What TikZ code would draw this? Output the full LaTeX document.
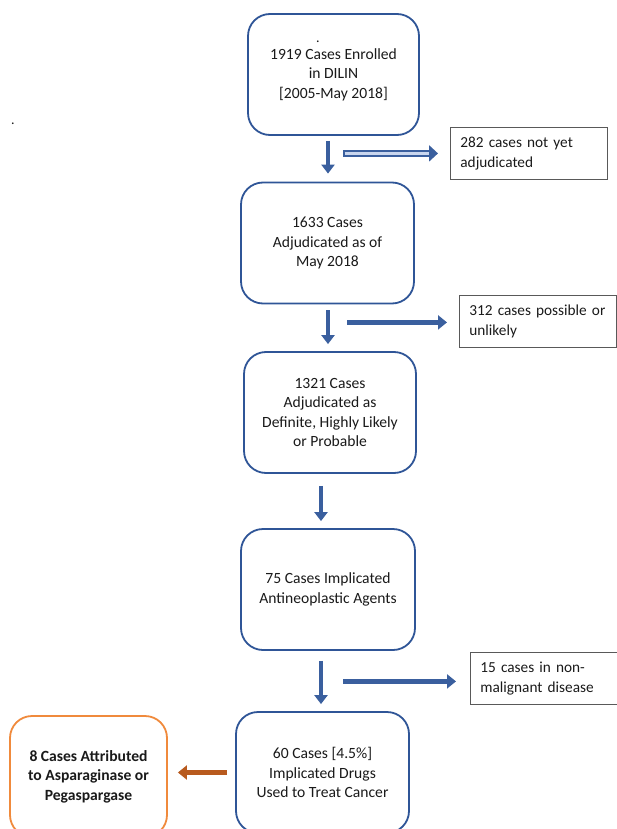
\documentclass[tikz,border=0pt]{standalone}
\usepackage{fontspec}
\setmainfont{Carlito}
\usetikzlibrary{arrows.meta,calc}
\definecolor{bblue}{HTML}{2F5597}
\definecolor{ablue}{HTML}{3A5F9E}
\definecolor{lblue}{HTML}{C9D6EE}
\definecolor{oborder}{HTML}{F08A3C}
\definecolor{oarrow}{HTML}{B85A1E}
\definecolor{gborder}{HTML}{595959}
\definecolor{txt}{HTML}{1A1A1A}
\tikzset{
  mainbox/.style={draw=bblue, line width=1.8pt, rounded corners=22pt, fill=white,
    minimum width=#1, minimum height=121pt, align=center, text=txt,
    font=\fontsize{15.6}{19.5}\selectfont},
  mainbox/.default=172pt,
  sidebox/.style={draw=gborder, line width=0.8pt, anchor=north west, align=left,
    text width=#1, inner xsep=10pt, inner ysep=4pt, minimum height=52pt, text=txt,
    font=\fontsize{15.3}{19.5}\selectfont},
  downar/.style={draw=ablue, line width=4.5pt, -{Triangle[length=9pt,width=13pt]}},
  rightar/.style={draw=ablue, line width=5.5pt, -{Triangle[length=9pt,width=14pt]}},
  leftar/.style={draw=oarrow, line width=5.5pt, -{Triangle[length=9pt,width=14pt]}},
  dotnode/.style={inner sep=0pt, text=txt, font=\fontsize{14}{14}\selectfont}
}
\begin{document}
\begin{tikzpicture}[x=1pt,y=-1pt]
\useasboundingbox (0,0) rectangle (616,829);
% main boxes
\node[mainbox=171pt] (b1) at (333.5,74.5) {1919 Cases Enrolled\\in DILIN\\{[2005-May 2018]}};
\node[mainbox=173pt] (b2) at (327.5,243) {1633 Cases\\Adjudicated as of\\May 2018};
\node[mainbox=172pt] (b3) at (330,412.5) {1321 Cases\\Adjudicated as\\Definite, Highly Likely\\or Probable};
\node[mainbox=174pt] (b4) at (328,589.5) {75 Cases Implicated\\Antineoplastic Agents};
\node[mainbox=173pt] (b5) at (322.5,772.5) {60 Cases [4.5\%]\\Implicated Drugs\\Used to Treat Cancer};
\node[mainbox=157pt, draw=oborder, font=\fontsize{15.6}{19.5}\selectfont\bfseries] (b6) at (88.5,776.5) {8 Cases Attributed\\to Asparaginase or\\Pegaspargase};
% side boxes
\node[sidebox=137pt] (s1) at (450,127) {282 cases not yet\\adjudicated};
\node[sidebox=137pt] (s2) at (459,295) {312 cases possible or\\unlikely};
\node[sidebox=140pt] (s3) at (470,652) {15 cases in non-\\malignant disease};
% dots
\node[dotnode] (d1) at (13,124) {.};
\node[dotnode] (d2) at (318,41.5) {.};
% down arrows
\draw[downar] ($(b1.south)+(-5.5,5)$) -- ($(b2.north)+(0.5,-8)$);
\draw[downar] ($(b2.south)+(0.5,6)$) -- ($(b3.north)+(-2,-7)$);
\draw[downar] ($(b3.south)+(-9,12)$) -- ($(b4.north)+(-7,-7)$);
\draw[downar] ($(b4.south)+(-7,10)$) -- ($(b5.north)+(-1.5,-7)$);
% horizontal arrows
\draw[rightar, line width=7.5pt, -{Triangle[length=9pt,width=16pt]}] ($(s1.west)+(-107,0)$) -- ($(s1.west)+(-12,0)$);
\draw[draw=lblue, line width=3pt, line cap=butt] ($(s1.west)+(-105.5,0)$) -- ($(s1.west)+(-21,0)$);
\draw[rightar] ($(s2.west)+(-112,1)$) -- ($(s2.west)+(-12,1)$);
\draw[rightar] ($(s3.west)+(-127,3)$) -- ($(s3.west)+(-14,3)$);
% orange arrow
\draw[leftar] ($(b5.west)+(-8,0)$) -- ($(b6.east)+(10,-4)$);
\end{tikzpicture}
\end{document}
